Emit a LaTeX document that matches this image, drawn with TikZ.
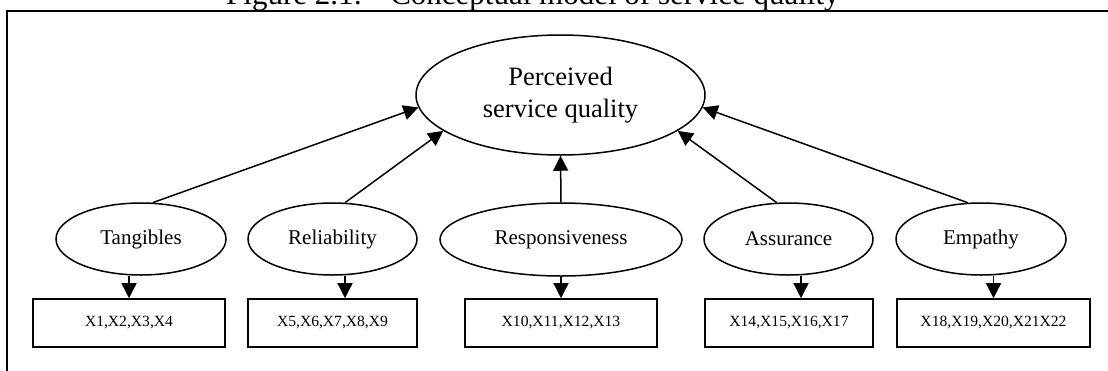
\documentclass[tikz,border=0pt]{standalone}
\usepackage{fontspec}
\setmainfont{Liberation Serif}
\usetikzlibrary{arrows.meta,shapes.geometric}
\begin{document}
\begin{tikzpicture}[x=1pt,y=-1pt,
  ell/.style={ellipse,draw,line width=1.5pt,inner sep=0pt},
  lbl/.style={font=\fontsize{21}{25}\selectfont},
  ibox/.style={rectangle,draw,line width=1.6pt,minimum height=48pt,inner sep=0pt,font=\fontsize{15.6}{18}\selectfont},
  arr/.style={line width=1.5pt,-{Triangle[length=15pt,width=15pt]}},
  frame/.style={line width=2pt}]
\useasboundingbox (0,0) rectangle (1108,370);

% title (clipped at the top of the picture)
\node[anchor=base west,inner sep=0pt,font=\fontsize{31}{36}\selectfont] (title) at (226,4.5)
  {Figure 2.1:\hspace{28pt}Conceptual model of service quality};

% frame
\draw[frame] (1115,11) -- (7,11) -- (7,380);

% main construct
\node[ell,minimum width=289pt,minimum height=120pt,align=center,
      font=\fontsize{26.5}{32}\selectfont] (m) at (560.5,95) {Perceived\\service quality};

% dimensions
\node[ell,lbl,minimum width=170pt,minimum height=72pt] (t) at (141,239) {Tangibles};
\node[ell,lbl,minimum width=169pt,minimum height=72pt] (r) at (332.5,239) {Reliability};
\node[ell,lbl,minimum width=242pt,minimum height=73pt] (p) at (561,239.5) {Responsiveness};
\node[ell,lbl,minimum width=169pt,minimum height=72pt] (a) at (788.5,239) {Assurance};
\node[ell,lbl,minimum width=170pt,minimum height=72pt] (e) at (981,239) {Empathy};

% items
\node[ibox,minimum width=192pt] (tb) at (129,323) {X1,X2,X3,X4};
\node[ibox,minimum width=169pt] (rb) at (332.5,323) {X5,X6,X7,X8,X9};
\node[ibox,minimum width=192pt] (pb) at (561,323) {X10,X11,X12,X13};
\node[ibox,minimum width=168pt] (ab) at (789,323) {X14,X15,X16,X17};
\node[ibox,minimum width=193pt] (eb) at (993.5,323) {X18,X19,X20,X21X22};

% connectors to main construct
\draw[arr] (t.72) -- (m.185);
\draw[arr] (r.71) -- (m.197);
\draw[arr] (p.north) -- (m.south);
\draw[arr] (a.108) -- (m.343);
\draw[arr] (e.110) -- (m.355);

% connectors to items
\coordinate (rbt) at ([xshift=12.5pt]rb.north);
\coordinate (abt) at ([xshift=12pt]ab.north);
\draw[arr] (tb.north |- t.south) -- (tb.north);
\draw[arr] (rbt |- r.south) -- (rbt);
\draw[arr] (pb.north |- p.south) -- (pb.north);
\draw[arr] (abt |- a.south) -- (abt);
\draw[arr] (eb.north |- e.south) -- (eb.north);
\end{tikzpicture}
\end{document}
